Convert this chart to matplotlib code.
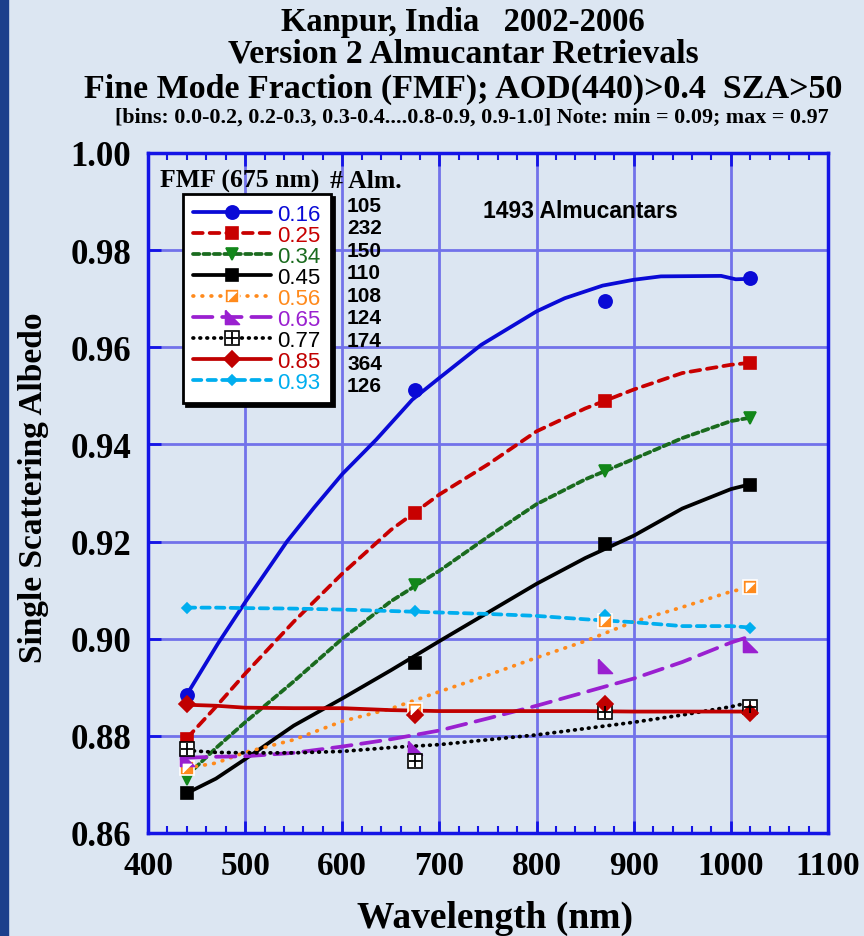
import numpy as np
import matplotlib.pyplot as plt
from matplotlib.lines import Line2D
from matplotlib.patches import Rectangle
from matplotlib.ticker import MultipleLocator, FormatStrFormatter

plt.rcParams['font.family'] = ['Liberation Serif', 'DejaVu Serif']
plt.rcParams['font.weight'] = 'bold'
plt.rcParams['lines.scale_dashes'] = False

# measured points (wavelength, nm)
wavelengths = [440, 675, 870, 1020]
fit_wl = [440, 470, 500, 550, 600, 650, 700, 750, 800, 850, 900, 950, 1000, 1020]
fit_wl_016 = [440, 472, 500, 543, 571, 600, 635, 672, 700, 743, 800, 829, 868, 900, 928, 990, 1005, 1020]

fmf_labels = ['0.16', '0.25', '0.34', '0.45', '0.56', '0.65', '0.77', '0.85', '0.93']
alm_counts = ['105', '232', '150', '110', '108', '124', '174', '364', '126']

ssa_016 = [0.8885, 0.9513, 0.9695, 0.9742]
ssa_025 = [0.8794, 0.9259, 0.9490, 0.9567]
ssa_034 = [0.8711, 0.9111, 0.9346, 0.9454]
ssa_045 = [0.8682, 0.8950, 0.9195, 0.9317]
ssa_056 = [0.8734, 0.8854, 0.9037, 0.9106]
ssa_065 = [0.8753, 0.8774, 0.8944, 0.8988]
ssa_077 = [0.8773, 0.8749, 0.8850, 0.8860]
ssa_085 = [0.8866, 0.8843, 0.8866, 0.8847]
ssa_093 = [0.9064, 0.9058, 0.9048, 0.9023]

fit_016 = [0.8885, 0.8990, 0.9075, 0.9200, 0.9270, 0.9339, 0.9410, 0.9492, 0.9537, 0.9605, 0.9674, 0.9701, 0.9727, 0.9739, 0.9746, 0.9747, 0.9740, 0.9741]
fit_025 = [0.8795, 0.8860, 0.8928, 0.9035, 0.9134, 0.9224, 0.9297, 0.9359, 0.9427, 0.9474, 0.9513, 0.9547, 0.9564, 0.9568]
fit_034 = [0.8718, 0.8775, 0.8828, 0.8912, 0.9000, 0.9077, 0.9140, 0.9210, 0.9277, 0.9328, 0.9370, 0.9413, 0.9448, 0.9455]
fit_045 = [0.8682, 0.8712, 0.8752, 0.8821, 0.8877, 0.8935, 0.8995, 0.9054, 0.9113, 0.9166, 0.9212, 0.9268, 0.9308, 0.9318]
fit_056 = [0.8734, 0.8744, 0.8766, 0.8792, 0.8830, 0.8856, 0.8891, 0.8925, 0.8961, 0.8995, 0.9035, 0.9065, 0.9097, 0.9106]
fit_065 = [0.8755, 0.8757, 0.8758, 0.8765, 0.8778, 0.8793, 0.8811, 0.8836, 0.8862, 0.8890, 0.8918, 0.8952, 0.8992, 0.9005]
fit_077 = [0.8770, 0.8766, 0.8765, 0.8765, 0.8768, 0.8776, 0.8782, 0.8792, 0.8802, 0.8815, 0.8828, 0.8843, 0.8860, 0.8869]
fit_085 = [0.8864, 0.8862, 0.8858, 0.8857, 0.8857, 0.8853, 0.8851, 0.8851, 0.8851, 0.8851, 0.8850, 0.8850, 0.8850, 0.8850]
fit_093 = [0.9064, 0.9064, 0.9063, 0.9062, 0.9060, 0.9057, 0.9054, 0.9051, 0.9047, 0.9040, 0.9034, 0.9026, 0.9026, 0.9023]

y_ticks = [0.86, 0.88, 0.90, 0.92, 0.94, 0.96, 0.98, 1.00]

bg = '#dce6f2'
axis_blue = '#1414e6'

tri_half = [(-1, -1), (-1, 1), (1, 1), (-1, -1)]
tri_right = [(-1, 1), (-1, -1), (1, -1), (-1, 1)]

styles = [
    dict(color='#0a0ad6', mc='#0a0ad6', dashes=None, marker='o', ms=9.5),
    dict(color='#c80000', mc='#c80000', dashes=(7, 5), marker='s', ms=9),
    dict(color='#1a6b1e', mc='#12871a', dashes=(4.5, 3), marker='v', ms=9),
    dict(color='black', mc='black', dashes=None, marker='s', ms=9),
    dict(color='#ff8a1c', mc='#ff8a1c', dashes=(0.5, 6), marker='s', ms=9.5),
    dict(color='#9a20d0', mc='#9a20d0', dashes=(14, 7), marker=tri_right, ms=10),
    dict(color='black', mc='white', dashes=(0.5, 4.5), marker='s', ms=9.5),
    dict(color='#c00000', mc='#c00000', dashes=None, marker='D', ms=8),
    dict(color='#00aeef', mc='#00aeef', dashes=(6, 4.5), marker='D', ms=5.5),
]
ssa_all = [ssa_016, ssa_025, ssa_034, ssa_045, ssa_056, ssa_065, ssa_077, ssa_085, ssa_093]
fit_all = [fit_016, fit_025, fit_034, fit_045, fit_056, fit_065, fit_077, fit_085, fit_093]
fit_wl_all = [fit_wl_016] + [fit_wl] * 8

fig = plt.figure(figsize=(8.64, 9.37), dpi=100, facecolor=bg)
fig.patches.append(Rectangle((0, 0), 8 / 864, 1, transform=fig.transFigure,
                             color='#1c3f8c', zorder=0))
ax = fig.add_axes([148 / 864, 1 - 834 / 937, 680 / 864, 680 / 937])
ax.set_facecolor(bg)

handles = []
for i, st in enumerate(styles):
    line_kw = dict(color=st['color'], lw=2.7, solid_capstyle='round',
                   dash_capstyle='round', solid_joinstyle='round')
    if st['dashes'] is not None:
        line_kw['dashes'] = st['dashes']
    ax.plot(fit_wl_all[i], fit_all[i], zorder=3, **line_kw)
    mk_kw = dict(marker=st['marker'], ms=st['ms'], mfc=st['mc'],
                 mec=st['mc'], mew=1.2)
    if i == 4:
        mk_kw['mec'] = 'white'
    if i == 6:
        mk_kw['mec'] = 'black'
    ax.plot(wavelengths, ssa_all[i], ls='none', zorder=4, **mk_kw)
    h = Line2D([], [], **line_kw, **mk_kw)
    if i == 4:
        over = dict(marker=tri_half, ms=6.5, mfc='white', mec='white', mew=0.5)
        ax.plot(wavelengths, ssa_all[i], ls='none', zorder=5, **over)
        h = (h, Line2D([], [], ls='none', **over))
    elif i == 6:
        over = dict(marker='+', ms=8.5, mec='black', mew=1.3)
        ax.plot(wavelengths, ssa_all[i], ls='none', zorder=5, **over)
        h = (h, Line2D([], [], ls='none', **over))
    handles.append(h)

ax.set_xlim(400, 1100)
ax.set_ylim(0.86, 1.00)
ax.xaxis.set_major_locator(MultipleLocator(100))
ax.xaxis.set_minor_locator(MultipleLocator(20))
ax.set_yticks(y_ticks)
ax.yaxis.set_major_formatter(FormatStrFormatter('%.2f'))
ax.set_axisbelow(True)
ax.grid(True, which='major', color='#7272ea', lw=2.0)
for sp in ax.spines.values():
    sp.set_color(axis_blue)
    sp.set_linewidth(2.5)
ax.tick_params(axis='x', which='major', direction='in', length=9, width=2,
               color=axis_blue, top=True, pad=12, labelsize=24)
ax.tick_params(axis='x', which='minor', direction='in', length=5, width=1.5,
               color=axis_blue, top=True)
ax.tick_params(axis='y', which='major', direction='in', length=9, width=2,
               color=axis_blue, pad=12, labelsize=25)

ax.set_xlabel('Wavelength (nm)', fontsize=27, fontweight='bold')
ax.xaxis.set_label_coords((495 - 148) / 680, (834 - 901) / 680)
ax.set_ylabel('Single Scattering Albedo', fontsize=24, fontweight='bold')
ax.yaxis.set_label_coords((49 - 148) / 680, (834 - 488) / 680)

leg = ax.legend(handles, fmf_labels, loc='upper left',
                bbox_to_anchor=((183 - 148) / 680, (834 - 195) / 680),
                borderaxespad=0, frameon=True, fancybox=False,
                shadow={'color': 'black', 'alpha': 1},
                prop={'family': 'Liberation Sans', 'weight': 'normal', 'size': 16},
                handlelength=3.5, handletextpad=0.3, labelspacing=0.0,
                borderpad=0.45, numpoints=1)
leg.get_frame().set_edgecolor('black')
leg.get_frame().set_linewidth(2)
leg.get_frame().set_facecolor('white')
leg.set_zorder(10)
for txt, st in zip(leg.get_texts(), styles):
    txt.set_color(st['color'])

ax.text((160 - 148) / 680, (834 - 181) / 680, 'FMF (675 nm)', transform=ax.transAxes,
        fontsize=18.5, va='center', ha='left', zorder=11)
ax.text((330 - 148) / 680, (834 - 181) / 680, '# Alm.', transform=ax.transAxes,
        fontsize=18.5, va='center', ha='left', zorder=11)
for k, n in enumerate(alm_counts):
    ax.text((347 - 148) / 680, (834 - (206 + 22.6 * k)) / 680, n,
            transform=ax.transAxes, fontsize=15, family='Liberation Sans',
            va='center', ha='left', zorder=11)
ax.text((580 - 148) / 680, (834 - 211) / 680, '1493 Almucantars',
        transform=ax.transAxes, fontsize=16.5, family='Liberation Sans',
        va='center', ha='center')

tx = 463 / 864
fig.text(tx, 1 - 22 / 937, 'Kanpur, India   2002-2006', fontsize=23.5, ha='center', va='center')
fig.text(tx, 1 - 54 / 937, 'Version 2 Almucantar Retrievals', fontsize=24.4, ha='center', va='center')
fig.text(tx, 1 - 89 / 937, 'Fine Mode Fraction (FMF); AOD(440)>0.4  SZA>50', fontsize=24.5,
         ha='center', va='center')
fig.text(472 / 864, 1 - 118 / 937,
         '[bins: 0.0-0.2, 0.2-0.3, 0.3-0.4....0.8-0.9, 0.9-1.0] Note: min = 0.09; max = 0.97',
         fontsize=15.8, ha='center', va='center')

fig.savefig('out.png', dpi=100, facecolor=bg)
